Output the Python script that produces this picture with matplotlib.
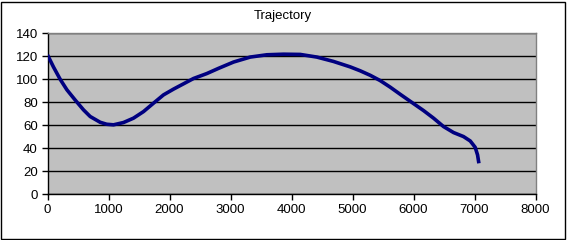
import matplotlib.pyplot as plt
from matplotlib.patches import Rectangle

# trajectory points
dist = [0, 98, 208, 318, 454, 590, 700, 864, 970, 1082, 1246, 1410, 1574, 1738,
        1902, 2066, 2230, 2393, 2612, 2803, 3050, 3323, 3596, 3869, 4143, 4416,
        4689, 4962, 5126, 5290, 5454, 5618, 5782, 5974, 6164, 6328, 6492, 6656,
        6820, 6930, 7011, 7050, 7072]
height = [121, 110.5, 99.8, 90.7, 81.8, 73.3, 67.5, 62.5, 60.8, 60.3, 62.3, 66.1,
          71.8, 79.1, 86.3, 91.3, 95.9, 100.5, 104.8, 109.3, 114.8, 119.1, 121.1,
          121.6, 121.4, 119.1, 115.3, 110.6, 107.2, 103.3, 98.7, 93.0, 86.8, 79.7,
          72.7, 66.1, 58.8, 53.6, 50.1, 46.3, 40.8, 34.2, 26.9]

xticks = [0, 1000, 2000, 3000, 4000, 5000, 6000, 7000, 8000]
yticks = [0, 20, 40, 60, 80, 100, 120, 140]

plt.rcParams['font.family'] = ['Liberation Sans', 'DejaVu Sans']

W, H = 567, 240
fig = plt.figure(figsize=(W / 100, H / 100), dpi=100)
fig.patches.append(Rectangle((1 / W, 1 / H), 564 / W, 237 / H, transform=fig.transFigure,
                             fill=False, edgecolor='black', linewidth=1.0))

left, right, top, bottom = 47.5, 535.5, 33, 194.3
ax = fig.add_axes([left / W, 1 - bottom / H, (right - left) / W, (bottom - top) / H])
ax.set_facecolor('#c0c0c0')

ax.plot(dist, height, color='#000080', linewidth=2.6, solid_joinstyle='round',
        solid_capstyle='butt', zorder=3)

ax.set_xlim(0, 8000)
ax.set_ylim(0, 140)
ax.set_xticks(xticks)
ax.set_yticks(yticks)
ax.set_xticklabels([str(v) for v in xticks])
ax.set_yticklabels([str(v) for v in yticks])
ax.grid(axis='y', color='black', linewidth=1.0)
ax.set_axisbelow(True)
ax.tick_params(direction='out', length=4, width=1, color='black', labelsize=9.5, pad=3)

ax.spines['left'].set_color('black')
ax.spines['bottom'].set_color('black')
ax.spines['top'].set_color('#808080')
ax.spines['right'].set_color('#808080')
for s in ax.spines.values():
    s.set_linewidth(1.0)

fig.text(283 / W, 1 - 16 / H, 'Trajectory', ha='center', va='center', fontsize=9.5)

fig.savefig('out.png', dpi=100)
